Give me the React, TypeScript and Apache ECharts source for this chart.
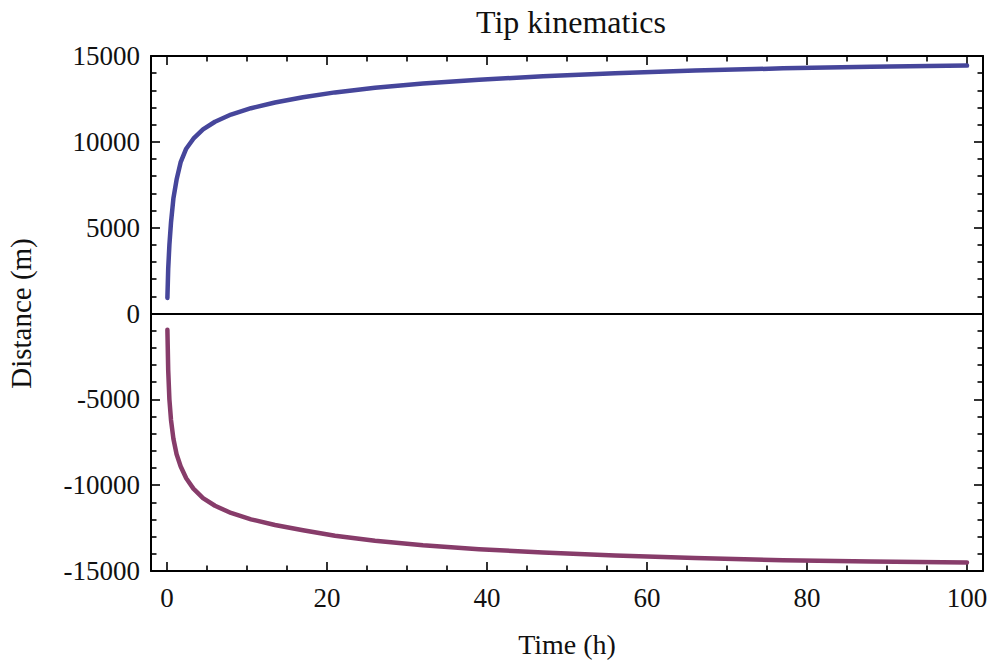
import React, { useEffect, useRef } from "react";
import * as echarts from "echarts";

const times = [0.05, 0.15, 0.3, 0.5, 0.8, 1.2, 1.7, 2.4, 3.3, 4.5, 6, 8, 10.5, 13.5, 17, 21, 26, 32, 39, 47, 56, 66, 77, 88, 100];
const upperDistance = [900, 2600, 4000, 5300, 6700, 7800, 8800, 9600, 10180, 10720, 11170, 11590, 11960, 12290, 12600, 12880, 13150, 13400, 13620, 13820, 14000, 14150, 14280, 14370, 14440];
const lowerDistance = [-950, -3300, -5000, -6200, -7300, -8200, -8900, -9600, -10200, -10750, -11200, -11620, -11990, -12320, -12630, -12950, -13240, -13500, -13730, -13920, -14090, -14240, -14370, -14450, -14510];

const xMajorTicks = [0, 20, 40, 60, 80, 100];
const xMinorTicks = [5, 10, 15, 25, 30, 35, 45, 50, 55, 65, 70, 75, 85, 90, 95];
const yMajorTicks = [-15000, -10000, -5000, 0, 5000, 10000, 15000];
const yMinorTicks = [-14000, -13000, -12000, -11000, -9000, -8000, -7000, -6000, -4000, -3000, -2000, -1000, 1000, 2000, 3000, 4000, 6000, 7000, 8000, 9000, 11000, 12000, 13000, 14000];

const FONT = "'Liberation Serif', 'DejaVu Serif', serif";
const INK = "#111";

export default function App() {
  const ref = useRef<HTMLDivElement>(null);
  useEffect(() => {
    if (!ref.current) return;
    const chart = echarts.init(ref.current, undefined, { renderer: "svg" });
    const lineStyleAxis = { color: "#000", width: 2 };
    const tickStyle = { color: "#000", width: 1.6 };
    const mkX = (position: string, ticks: number[], len: number, main: boolean, labels: boolean) => ({
      type: "value",
      position,
      min: -2,
      max: 102,
      gridIndex: 0,
      axisLine: { show: main, onZero: false, lineStyle: lineStyleAxis },
      axisTick: { show: true, inside: true, length: len, customValues: ticks, lineStyle: tickStyle },
      axisLabel: labels
        ? {
            show: true,
            customValues: ticks,
            margin: 13,
            fontFamily: FONT,
            fontSize: 27,
            color: INK,
            formatter: (v: number) => String(v),
          }
        : { show: false },
      splitLine: { show: false },
      ...(labels
        ? {
            name: "Time (h)",
            nameLocation: "middle",
            nameGap: 59,
            nameTextStyle: { fontFamily: FONT, fontSize: 28, color: INK },
          }
        : {}),
    });
    const mkY = (position: string, ticks: number[], len: number, main: boolean, labels: boolean) => ({
      type: "value",
      position,
      min: -15000,
      max: 15000,
      gridIndex: 0,
      axisLine: { show: main, onZero: false, lineStyle: lineStyleAxis },
      axisTick: { show: true, inside: true, length: len, customValues: ticks, lineStyle: tickStyle },
      axisLabel: labels
        ? {
            show: true,
            customValues: ticks,
            margin: 11,
            fontFamily: FONT,
            fontSize: 27,
            color: INK,
            formatter: (v: number) => String(v),
          }
        : { show: false },
      splitLine: { show: false },
      ...(labels
        ? {
            name: "Distance (m)",
            nameLocation: "middle",
            nameGap: 116,
            nameTextStyle: { fontFamily: FONT, fontSize: 29, color: INK },
          }
        : {}),
    });
    chart.setOption({
      animation: false,
      backgroundColor: "#fff",
      title: {
        text: "Tip kinematics",
        left: 566,
        textAlign: "center",
        top: 1,
        textStyle: { fontFamily: FONT, fontSize: 32, fontWeight: "normal", color: INK },
      },
      grid: { left: 151, top: 56, width: 832, height: 515, containLabel: false, outerBoundsMode: "none" },
      xAxis: [
        mkX("bottom", xMajorTicks, 9, true, true),
        mkX("bottom", xMinorTicks, 5.5, false, false),
        mkX("top", xMajorTicks, 9, true, false),
        mkX("top", xMinorTicks, 5.5, false, false),
      ],
      yAxis: [
        mkY("left", yMajorTicks, 9, true, true),
        mkY("left", yMinorTicks, 5.5, false, false),
        mkY("right", yMajorTicks, 9, true, false),
        mkY("right", yMinorTicks, 5.5, false, false),
      ],
      series: [
        {
          type: "line",
          xAxisIndex: 0,
          yAxisIndex: 0,
          data: times.map((t, i) => [t, upperDistance[i]]),
          showSymbol: false,
          smooth: false,
          lineStyle: { color: "#46469b", width: 4.5, join: "round", cap: "round" },
          markLine: {
            silent: true,
            symbol: "none",
            label: { show: false },
            lineStyle: { color: "#000", width: 2, type: "solid" },
            data: [{ yAxis: 0 }],
          },
        },
        {
          type: "line",
          xAxisIndex: 0,
          yAxisIndex: 0,
          data: times.map((t, i) => [t, lowerDistance[i]]),
          showSymbol: false,
          smooth: false,
          lineStyle: { color: "#873c6a", width: 4.5, join: "round", cap: "round" },
        },
      ],
    });
    return () => chart.dispose();
  }, []);
  return <div ref={ref} style={{ width: 991, height: 661, position: "absolute", left: 0, top: 0 }} />;
}
